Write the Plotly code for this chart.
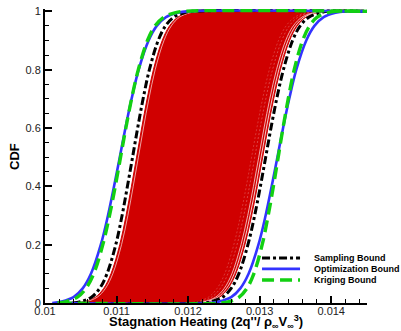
import plotly.graph_objects as go

# Cumulative probability levels at which every curve is tabulated
cdf_levels = [0, 0.005, 0.02, 0.05, 0.1, 0.2, 0.3, 0.4, 0.5, 0.6, 0.7, 0.8, 0.9, 0.95, 0.98, 0.995, 1]

# Stagnation heating values at those levels: lower / upper envelope of each method
sampling_lower = [0.010385, 0.010503, 0.010649, 0.010764, 0.010866, 0.010989, 0.011077, 0.011152, 0.011224,
                  0.011295, 0.011371, 0.011459, 0.011582, 0.011684, 0.011799, 0.011944, 0.012063]
sampling_upper = [0.012203, 0.012327, 0.012481, 0.012601, 0.012708, 0.012836, 0.012930, 0.013010, 0.013084,
                  0.013158, 0.013238, 0.013332, 0.013460, 0.013566, 0.013687, 0.013841, 0.013965]
optimization_lower = [0.010101, 0.010234, 0.010399, 0.010527, 0.010642, 0.010780, 0.010880, 0.010965, 0.011045,
                      0.011124, 0.011210, 0.011309, 0.011448, 0.011562, 0.011691, 0.011856, 0.011989]
optimization_upper = [0.012304, 0.012437, 0.012602, 0.012730, 0.012845, 0.012983, 0.013083, 0.013168, 0.013248,
                      0.013327, 0.013413, 0.013512, 0.013651, 0.013765, 0.013894, 0.014059, 0.014192]
kriging_lower = [0.010175, 0.010299, 0.010453, 0.010572, 0.010680, 0.010808, 0.010902, 0.010982, 0.011056,
                 0.011130, 0.011210, 0.011304, 0.011432, 0.011538, 0.011659, 0.011813, 0.011937]
kriging_upper = [0.012462, 0.012575, 0.012713, 0.012821, 0.012918, 0.013035, 0.013119, 0.013192, 0.013259,
                 0.013326, 0.013399, 0.013483, 0.013600, 0.013697, 0.013804, 0.013943, 0.014056]

# Envelope of the individual sampled CDFs (filled band)
samples_lower = [0.010441, 0.010559, 0.010705, 0.010820, 0.010922, 0.011045, 0.011133, 0.011208, 0.011280,
                 0.011351, 0.011427, 0.011515, 0.011638, 0.011740, 0.011855, 0.012000, 0.012119]
samples_upper = [0.012161, 0.012285, 0.012439, 0.012559, 0.012666, 0.012794, 0.012888, 0.012968, 0.013042,
                 0.013116, 0.013196, 0.013290, 0.013418, 0.013524, 0.013645, 0.013799, 0.013923]
# A few individual sample CDFs near the band edges (offset from the envelope)
sample_offsets_upper = [-0.000022, -0.000055, -0.000110, -0.000155]
sample_offsets_lower = [0.000025]

x_min, x_max = 0.0102, 0.0145

x_tickvals = [0.010, 0.011, 0.012, 0.013, 0.014]
x_ticktext = ["0.01", "0.011", "0.012", "0.013", "0.014"]
y_tickvals = [0, 0.2, 0.4, 0.6, 0.8, 1.0]
y_ticktext = ["0", "0.2", "0.4", "0.6", "0.8", "1"]

legend_names = ["Sampling Bound", "Optimization Bound", "Kriging Bound"]

FONT = "Liberation Sans, Arial, Helvetica, sans-serif"
RED = "rgb(208,0,0)"
BLACK_DASH = "8px,3px,3px,3px"
GREEN_DASH = "12px,6px"
styles = {
    "Sampling Bound": dict(color="black", width=3, dash=BLACK_DASH),
    "Optimization Bound": dict(color="rgb(51,51,255)", width=2.6, dash="solid"),
    "Kriging Bound": dict(color="rgb(18,208,18)", width=3.4, dash=GREEN_DASH),
}


def bound_xy(lower, upper):
    """Lower curve runs on to the right edge at 1, upper curve starts from the left at 0."""
    x = list(lower) + [x_max] + [None] + [x_min] + list(upper) + [x_max]
    y = list(cdf_levels) + [1] + [None] + [0] + list(cdf_levels) + [1]
    return x, y


fig = go.Figure()

# filled band of sampled CDFs
band_x = list(samples_lower) + list(reversed(samples_upper))
band_y = list(cdf_levels) + list(reversed(cdf_levels))
fig.add_trace(go.Scatter(x=band_x, y=band_y, mode="lines", fill="toself", fillcolor=RED,
                         line=dict(color=RED, width=1, shape="spline"),
                         showlegend=False, hoverinfo="skip"))

# individual sample curves showing through at the edges
for k, off in enumerate(sample_offsets_upper):
    op = [1.0, 0.85, 0.45, 0.35][k]
    fig.add_trace(go.Scatter(x=[v + off for v in samples_upper], y=cdf_levels, mode="lines",
                             line=dict(color="white", width=0.8 if k < 2 else 0.6, shape="spline",
                                       dash="solid" if k < 2 else "2px,2px"),
                             opacity=op, showlegend=False, hoverinfo="skip"))
for off in sample_offsets_lower:
    fig.add_trace(go.Scatter(x=[v + off for v in samples_lower], y=cdf_levels, mode="lines",
                             line=dict(color="white", width=0.7, shape="spline"),
                             opacity=0.9, showlegend=False, hoverinfo="skip"))

bounds = {
    "Sampling Bound": (sampling_lower, sampling_upper),
    "Optimization Bound": (optimization_lower, optimization_upper),
    "Kriging Bound": (kriging_lower, kriging_upper),
}
for name in legend_names:
    lo, up = bounds[name]
    bx, by = bound_xy(lo, up)
    st = styles[name]
    fig.add_trace(go.Scatter(x=bx, y=by, mode="lines", name=name,
                             line=dict(color=st["color"], width=st["width"], dash=st["dash"],
                                       shape="spline"),
                             showlegend=False, connectgaps=False))

# compact legend in the lower right
shapes = []
annotations = []
row_y = [0.153, 0.116, 0.078]
for name, yy in zip(legend_names, row_y):
    st = styles[name]
    shapes.append(dict(type="line", xref="paper", yref="paper", x0=0.674, x1=0.792, y0=yy, y1=yy,
                       line=dict(color=st["color"], width=st["width"], dash=st["dash"])))
    annotations.append(dict(xref="paper", yref="paper", x=0.829, y=yy, xanchor="left", yanchor="middle",
                            text="<b>%s</b>" % name, showarrow=False,
                            font=dict(family=FONT, size=9, color="black")))

# axis titles
annotations.append(dict(xref="paper", yref="paper", x=0.5, y=-0.066, xanchor="center", yanchor="middle",
                        text="<b>Stagnation Heating (2q''/ ρ<sub>∞</sub>V<sub>∞</sub><sup>3</sup>)</b>",
                        showarrow=False, font=dict(family=FONT, size=13, color="black")))
annotations.append(dict(xref="paper", yref="paper", x=-0.093, y=0.497, xanchor="center", yanchor="middle",
                        text="<b>CDF</b>", textangle=-90, showarrow=False,
                        font=dict(family=FONT, size=13, color="black")))

axis_common = dict(showline=True, linecolor="black", linewidth=2, mirror=False,
                   ticks="inside", ticklen=7, tickwidth=1.6, tickcolor="black",
                   showgrid=False, zeroline=False, automargin=False,
                   tickfont=dict(family=FONT, size=11, color="#222"))

fig.update_layout(
    width=401, height=331,
    margin=dict(l=45, r=34, t=9, b=28, pad=0),
    paper_bgcolor="white", plot_bgcolor="white",
    showlegend=False,
    shapes=shapes, annotations=annotations,
    xaxis=dict(range=[0.01, 0.0145], tickvals=x_tickvals, ticktext=x_ticktext,
               ticklabelstandoff=-3,
               minor=dict(dtick=0.0002, tick0=0.01, ticks="inside", ticklen=4, tickwidth=1,
                          tickcolor="black"),
               **axis_common),
    yaxis=dict(range=[0, 1.008], tickvals=y_tickvals, ticktext=y_ticktext,
               minor=dict(dtick=0.05, tick0=0, ticks="inside", ticklen=4, tickwidth=1,
                          tickcolor="black"),
               **axis_common),
)

fig.write_html("out.html")
